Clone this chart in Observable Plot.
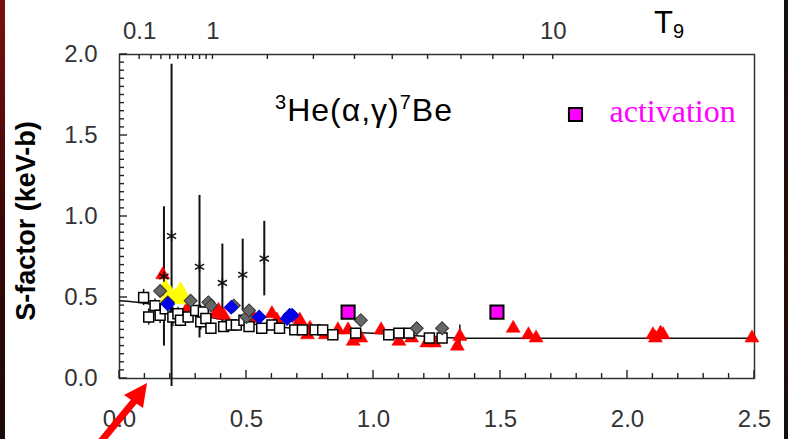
<!DOCTYPE html>
<html><head><meta charset="utf-8">
<script src="https://cdn.jsdelivr.net/npm/d3@7"></script>
<script src="https://cdn.jsdelivr.net/npm/@observablehq/plot@0.6"></script>
<style>
html,body{margin:0;padding:0;background:#fff;}
#wrap{position:relative;width:788px;height:439px;overflow:hidden;background:#fff;}
.stripL{position:absolute;left:0;top:0;width:5px;height:439px;background:linear-gradient(#7a1010,#3a0808 50%,#1a0a0a);}
.stripR{position:absolute;right:0;top:0;width:4px;height:439px;background:linear-gradient(#111,#2a0a0a 60%,#111);}
#wrap svg{position:absolute;left:0;top:0;}
</style></head><body><div id="wrap"><div class="stripL"></div><div class="stripR"></div></div>
<script>
// ---- data (E in MeV, S in keV-b) ----
const sqE   = [0.095,0.115,0.14,0.16,0.18,0.21,0.23,0.24,0.27,0.30,0.32,0.33,0.34,0.36,0.41,0.44,0.46,0.49,0.51,0.56,0.60,0.63,0.69,0.72,0.77,0.80,0.84,0.93,1.06,1.10,1.14,1.22,1.27];
const sqS   = [0.50,0.38,0.45,0.39,0.43,0.38,0.40,0.36,0.38,0.42,0.35,0.41,0.37,0.31,0.32,0.33,0.33,0.36,0.32,0.31,0.33,0.31,0.30,0.30,0.30,0.30,0.27,0.28,0.27,0.28,0.28,0.25,0.25];
const sqErr = [0.05,0.05,0.04,0.05,0.04,0.06,0.04,0.04,0.04,0.03,0.05,0.03,0.03,0.03,0.03,0.02,0.02,0.02,0.02,0.02,0.02,0.02,0.02,0.02,0.02,0.02,0.02,0.02,0.02,0.02,0.02,0.02,0.02];

const redE = [0.17,0.27,0.38,0.39,0.41,0.53,0.60,0.62,0.67,0.71,0.74,0.75,0.81,0.86,0.90,0.92,0.95,1.03,1.10,1.15,1.21,1.24,1.33,1.34,1.55,1.61,1.64,2.10,2.11,2.13,2.14,2.49];
const redS = [0.64,0.44,0.40,0.42,0.39,0.37,0.40,0.36,0.38,0.36,0.27,0.31,0.27,0.30,0.30,0.23,0.25,0.30,0.23,0.25,0.22,0.22,0.20,0.26,0.31,0.27,0.25,0.27,0.25,0.28,0.27,0.25];
const redErr = [0,0,0,0,0,0,0,0,0,0,0,0,0,0,0,0,0,0,0,0,0,0,0,0.07,0,0,0,0,0,0,0,0];

const grayE = [0.16,0.19,0.28,0.35,0.36,0.45,0.50,0.51,0.95,1.17,1.27];
const grayS = [0.54,0.47,0.48,0.47,0.45,0.45,0.38,0.42,0.36,0.31,0.31];

const blueE = [0.19,0.44,0.55,0.66,0.67,0.68];
const blueS = [0.46,0.44,0.38,0.37,0.39,0.39];

const yelE = [0.18,0.19,0.20,0.22,0.24,0.25];
const yelS = [0.56,0.50,0.52,0.50,0.54,0.49];

const astE  = [0.175,0.205,0.315,0.405,0.485,0.57];
const astS  = [0.63,0.88,0.69,0.59,0.64,0.74];
const astLo = [0.20,-0.05,0.25,0.30,0.42,0.51];
const astHi = [1.06,1.94,1.13,0.83,0.86,0.97];

const actE = [0.90,1.486];
const actS = [0.41,0.41];

const fitE = [0,0.1,0.2,0.3,0.4,0.5,0.6,0.7,0.8,0.9,1.0,1.1,1.2,1.3,1.4,2.5];
const fitS = [0.48,0.465,0.43,0.395,0.365,0.34,0.322,0.307,0.296,0.287,0.279,0.27,0.261,0.252,0.248,0.248];

// ---- ticks ----
const xMajor = [0,0.5,1.0,1.5,2.0,2.5];
const xMinor = [0.1,0.2,0.3,0.4,0.6,0.7,0.8,0.9,1.1,1.2,1.3,1.4,1.6,1.7,1.8,1.9,2.1,2.2,2.3,2.4];
const yMajor = [0,0.5,1.0,1.5,2.0];
const yMinor = [0.05,0.1,0.15,0.2,0.25,0.3,0.35,0.4,0.45,0.55,0.6,0.65,0.7,0.75,0.8,0.85,0.9,0.95,
                1.05,1.1,1.15,1.2,1.25,1.3,1.35,1.4,1.45,1.55,1.6,1.65,1.7,1.75,1.8,1.85,1.9,1.95];
const t9Ticks = [0.1,0.2,0.3,0.4,0.5,0.6,0.7,0.8,0.9,1,2,3,4,5,6,7,8,9,10];
const t9Labels = [0.1,1,10];
// Gamow peak energy for 3He+4He: E0 = 0.122 (Z1^2 Z2^2 mu)^(1/3) T9^(2/3) MeV
const t9ToE = t => 0.122 * Math.cbrt(4*4*(12/7)) * Math.pow(t, 2/3);

const zip = (a,b,c) => a.map((v,i)=>({e:v, s:b[i], err:c ? c[i] : 0}));
const squares = zip(sqE, sqS, sqErr);
const reds = zip(redE, redS, redErr);
const grays = zip(grayE, grayS);
const blues = zip(blueE, blueS);
const yels = zip(yelE, yelS);
const asts = astE.map((v,i)=>({e:v, s:astS[i], lo:astLo[i], hi:astHi[i]}));
const acts = zip(actE, actS);
const fit = zip(fitE, fitS);
const t9Marks = t9Labels.map(t => ({e: t9ToE(t), label: String(t)}));

const font = "'Liberation Sans', Arial, Helvetica, sans-serif";
const tickCol = "#222";
const W = 788, H = 439, ML = 119, MR = 34, MT = 54, MB = 61;

const chart = Plot.plot({
  width: W, height: H,
  marginLeft: ML, marginRight: MR, marginTop: MT, marginBottom: MB,
  x: {domain: [0, 2.5]},
  y: {domain: [0, 2]},
  style: {fontFamily: font, background: "transparent", overflow: "visible"},
  marks: [
    Plot.frame({fill: "none", stroke: "#333", strokeWidth: 1.5}),
    // tick labels
    Plot.axisX({ticks: xMajor, tickSize: 0, tickPadding: 31, tickFormat: d3.format(".1f"), label: null, fontSize: 24, fill: "#333"}),
    Plot.axisY({ticks: yMajor, tickSize: 0, tickPadding: 22, tickFormat: d3.format(".1f"), label: null, fontSize: 24, fill: "#333"}),
    Plot.text(t9Marks, {x: "e", text: "label", frameAnchor: "top", dy: -16, lineAnchor: "bottom", fontSize: 24, fill: "#333"}),
    // fit curve
    Plot.line(fit, {x: "e", y: "s", stroke: "#111", strokeWidth: 1.5, curve: "monotone-x"}),
    // error bars
    Plot.ruleX(squares, {x: "e", y1: d => d.s - d.err, y2: d => d.s + d.err, stroke: "#111", strokeWidth: 1.5}),
    Plot.ruleX(reds.filter(d => d.err > 0), {x: "e", y1: d => d.s - d.err, y2: d => d.s + d.err, stroke: "#111", strokeWidth: 1.5}),
    Plot.ruleX(asts, {x: "e", y1: "lo", y2: "hi", stroke: "#111", strokeWidth: 2}),
    // points
    Plot.dot(reds, {x: "e", y: "s", symbol: "triangle", r: 5.2, fill: "#ff0000", stroke: "#ff0000", strokeWidth: 0.5}),
    Plot.dot(squares, {x: "e", y: "s", symbol: "square", r: 5.6, fill: "#fff", stroke: "#000", strokeWidth: 1.5}),
    Plot.dot(yels, {x: "e", y: "s", symbol: "triangle", r: 6, fill: "#ffff00", stroke: "#ffff00", strokeWidth: 0.5}),
    Plot.dot(grays, {x: "e", y: "s", symbol: "square", rotate: 45, r: 5.2, fill: "#666", stroke: "#333", strokeWidth: 1}),
    Plot.dot(blues, {x: "e", y: "s", symbol: "square", rotate: 45, r: 5.4, fill: "#0000ee", stroke: "#0000cc", strokeWidth: 1}),
    Plot.dot(asts, {x: "e", y: "s", symbol: "asterisk", r: 5, stroke: "#111", strokeWidth: 1.5}),
    Plot.dot(acts, {x: "e", y: "s", symbol: "square", r: 7.4, fill: "#ff00ff", stroke: "#000", strokeWidth: 2}),
    // legend
    Plot.dot([0], {frameAnchor: "top-left", dx: 456, dy: 60, symbol: "square", r: 7.4, fill: "#ff00ff", stroke: "#000", strokeWidth: 2}),
    Plot.text(["activation"], {frameAnchor: "top-left", dx: 490, dy: 57, text: d => d, textAnchor: "start", lineAnchor: "middle",
      fontFamily: "'Liberation Serif', 'Times New Roman', serif", fontSize: 32, fill: "#ff00ff"})
  ]
});

document.getElementById("wrap").appendChild(chart);

const svg = d3.select(chart);
// inward ticks, positioned through the plot's own scales
const sx = chart.scale("x"), sy = chart.scale("y");
const yBottom = sy.apply(0), yTop = sy.apply(2), xLeft = sx.apply(0);
const tg = svg.append("g").attr("stroke", tickCol).attr("stroke-width", 1.4);
const vt = (vals, len, yBase, dir) => vals.forEach(v => {
  const x = sx.apply(v);
  tg.append("line").attr("x1", x).attr("x2", x).attr("y1", yBase).attr("y2", yBase + dir * len);
});
vt(xMinor, 5, yBottom, -1);
vt(xMajor, 8, yBottom, -1);
vt(t9Ticks.map(t9ToE), 5, yTop, 1);
[[yMinor, 5], [yMajor, 8]].forEach(([vals, len]) => vals.forEach(v => {
  const y = sy.apply(v);
  tg.append("line").attr("x1", xLeft).attr("x2", xLeft + len).attr("y1", y).attr("y2", y);
}));

// reaction title
const t = svg.append("text").attr("x", 275).attr("y", 121).attr("text-anchor", "start")
  .attr("font-family", font).attr("font-size", 32).attr("letter-spacing", 1).attr("fill", "#000");
t.append("tspan").attr("font-size", 20).attr("dy", -12).text("3");
t.append("tspan").attr("dy", 12).text("He(α,γ)");
t.append("tspan").attr("font-size", 20).attr("dy", -12).text("7");
t.append("tspan").attr("dy", 12).text("Be");
// top axis name
const tt = svg.append("text").attr("x", 654).attr("y", 33).attr("text-anchor", "start")
  .attr("font-family", font).attr("font-size", 31).attr("fill", "#000");
tt.append("tspan").text("T");
tt.append("tspan").attr("font-size", 20).attr("dy", 5).text("9");
// y axis title
svg.append("text").attr("transform", "translate(35,221) rotate(-90)").attr("text-anchor", "middle")
  .attr("font-family", font).attr("font-size", 27).attr("font-weight", "bold").attr("fill", "#000").text("S-factor (keV-b)");
// red arrow annotation
const ar = svg.append("g").attr("fill", "#ff0000").attr("stroke", "none");
ar.append("line").attr("x1", 98).attr("y1", 445).attr("x2", 136).attr("y2", 399).attr("stroke", "#ff0000").attr("stroke-width", 7);
ar.append("polygon").attr("points", "147,383 124,395 143,408");
</script>
</body></html>
